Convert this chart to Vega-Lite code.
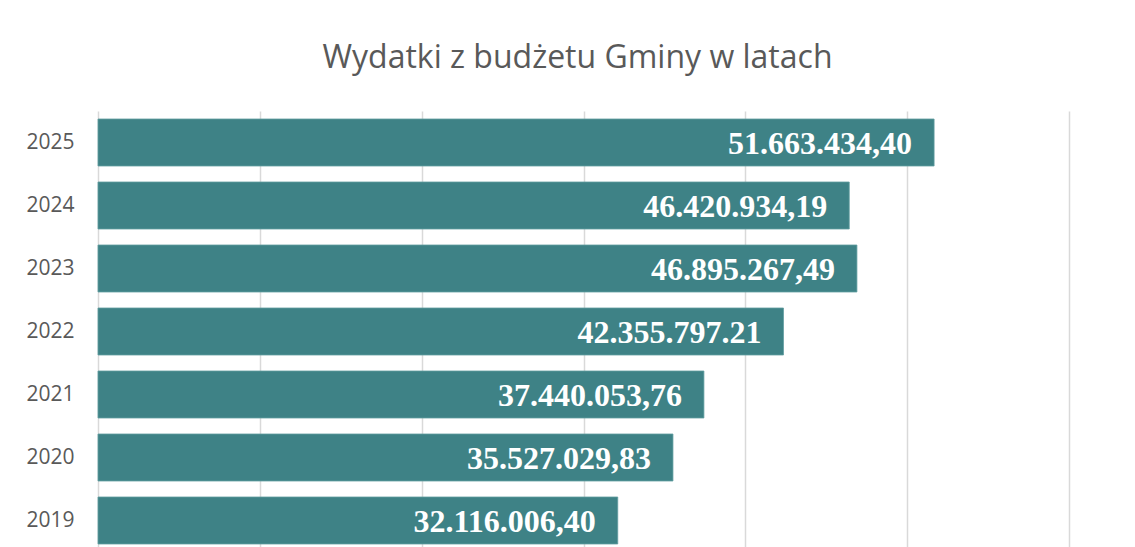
{
  "$schema": "https://vega.github.io/schema/vega-lite/v6.json",
  "autosize": {"type": "none"},
  "width": 971,
  "height": 441,
  "padding": {"left": 98, "top": 111, "right": 66, "bottom": 0},
  "background": "white",
  "title": {
    "text": "Wydatki z budżetu Gminy w latach",
    "font": "Open Sans",
    "fontSize": 32,
    "fontWeight": "normal",
    "color": "#595959",
    "anchor": "middle",
    "frame": "group",
    "dx": -6,
    "offset": 36
  },
  "data": {
    "values": [
      {"rok": "2025", "wartosc": 51663434.40, "etykieta": "51.663.434,40"},
      {"rok": "2024", "wartosc": 46420934.19, "etykieta": "46.420.934,19"},
      {"rok": "2023", "wartosc": 46895267.49, "etykieta": "46.895.267,49"},
      {"rok": "2022", "wartosc": 42355797.21, "etykieta": "42.355.797.21"},
      {"rok": "2021", "wartosc": 37440053.76, "etykieta": "37.440.053,76"},
      {"rok": "2020", "wartosc": 35527029.83, "etykieta": "35.527.029,83"},
      {"rok": "2019", "wartosc": 32116006.40, "etykieta": "32.116.006,40"}
    ]
  },
  "encoding": {
    "y": {
      "field": "rok",
      "type": "nominal",
      "sort": "descending",
      "scale": {"paddingInner": 0.254, "paddingOuter": 0.127},
      "axis": {
        "title": null,
        "domain": false,
        "ticks": false,
        "labelFont": "Open Sans",
        "labelFontSize": 21,
        "labelColor": "#595959",
        "labelPadding": 24
      }
    },
    "x": {
      "field": "wartosc",
      "type": "quantitative",
      "scale": {"domain": [0, 60000000], "nice": false},
      "axis": {
        "title": null,
        "labels": false,
        "domain": false,
        "ticks": false,
        "values": [0, 10000000, 20000000, 30000000, 40000000, 50000000, 60000000],
        "gridColor": "#d9d9d9",
        "gridWidth": 1.5
      }
    }
  },
  "layer": [
    {"mark": {"type": "bar", "color": "#3e8286", "stroke": "#5f9da0", "strokeWidth": 0.8}},
    {
      "mark": {
        "type": "text",
        "align": "right",
        "baseline": "middle",
        "dx": -22,
        "dy": 1,
        "font": "Liberation Serif",
        "fontWeight": "bold",
        "fontSize": 32,
        "color": "white"
      },
      "encoding": {"text": {"field": "etykieta"}}
    }
  ],
  "config": {"view": {"stroke": null}}
}
